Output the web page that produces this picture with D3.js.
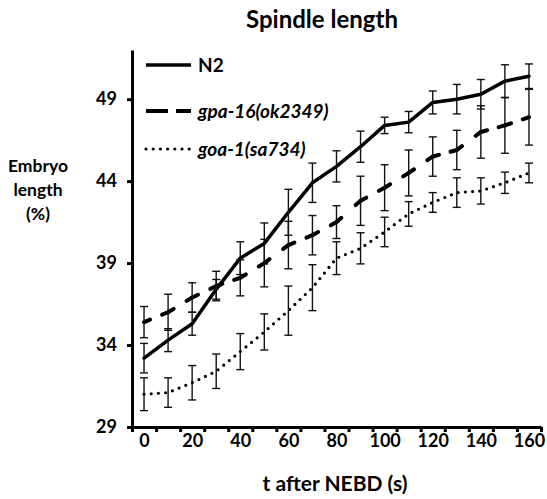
<!DOCTYPE html>
<html>
<head>
<meta charset="utf-8">
<script src="https://cdn.jsdelivr.net/npm/d3@7"></script>
<style>
  body { margin: 0; background: #fff; }
  svg text { font-family: Lato, "Open Sans", sans-serif; font-weight: bold; fill: #000; }
</style>
</head>
<body>
<div id="chart"></div>
<script>
// time points (s after NEBD)
const times = [0, 10, 20, 30, 40, 50, 60, 70, 80, 90, 100, 110, 120, 130, 140, 150, 160];
const xLabels = [0, 20, 40, 60, 80, 100, 120, 140, 160];
const yTicks = [29, 34, 39, 44, 49];

// spindle length, % of embryo length
const n2Mean = [33.2, 34.3, 35.3, 37.4, 39.3, 40.2, 42.1, 43.9, 44.9, 46.1, 47.4, 47.6, 48.8, 49.0, 49.3, 50.1, 50.4];
const n2Err = [0.9, 0.7, 0.7, 0.6, 1.0, 1.25, 1.4, 1.2, 0.95, 0.95, 0.5, 0.65, 0.7, 0.9, 0.9, 1.0, 0.75];
const gpaMean = [35.4, 36.0, 36.9, 37.6, 38.1, 39.0, 40.1, 40.7, 41.5, 42.8, 43.6, 44.5, 45.5, 45.9, 47.0, 47.4, 47.9];
const gpaErr = [0.95, 1.1, 0.9, 0.9, 1.1, 1.45, 1.45, 1.2, 1.0, 1.5, 1.4, 1.4, 1.2, 1.2, 1.6, 1.7, 1.7];
const goaMean = [31.0, 31.1, 31.7, 32.4, 33.6, 34.8, 36.1, 37.5, 39.3, 39.9, 40.9, 42.0, 42.7, 43.3, 43.4, 43.9, 44.5];
const goaErr = [1.0, 0.9, 1.05, 1.05, 1.1, 1.1, 1.5, 1.4, 1.0, 0.95, 0.9, 0.75, 0.6, 0.9, 0.8, 0.65, 0.6];

const seriesNames = ["N2", "gpa-16(ok2349)", "goa-1(sa734)"];

const width = 547, height = 499;
const margin = { left: 132, right: 6, top: 50, bottom: 72 };

const series = [
  { name: seriesNames[0], mean: n2Mean, err: n2Err, style: "solid", italic: false },
  { name: seriesNames[1], mean: gpaMean, err: gpaErr, style: "dash", italic: true },
  { name: seriesNames[2], mean: goaMean, err: goaErr, style: "dot", italic: true }
];

const svg = d3.select("#chart")
  .append("svg")
  .attr("width", width)
  .attr("height", height);

// category axis: points sit in the middle of each 10 s slot
const x = d3.scaleLinear()
  .domain([times[0] - 5, times[times.length - 1] + 5])
  .range([margin.left, width - margin.right]);
const y = d3.scaleLinear()
  .domain([29, 52])
  .range([height - margin.bottom, margin.top]);

const baseY = y(29);

// y axis
const yAxis = svg.append("g")
  .attr("transform", `translate(${margin.left},0)`)
  .call(d3.axisLeft(y).tickValues(yTicks).tickSize(5).tickSizeOuter(0).tickPadding(10));
yAxis.select(".domain").attr("stroke-width", 3);
yAxis.selectAll(".tick line").attr("stroke-width", 3);
yAxis.selectAll("text").style("font-size", "18px");

// x axis: tick marks on slot edges
const edges = times.map(t => t - 5).concat([times[times.length - 1] + 5]);
const xAxis = svg.append("g")
  .attr("transform", `translate(0,${baseY})`)
  .call(d3.axisBottom(x).tickValues(edges).tickSize(5).tickSizeOuter(0).tickFormat(""));
xAxis.select(".domain").attr("stroke-width", 3);
xAxis.selectAll(".tick line").attr("stroke-width", 3);

const xLab = svg.append("g")
  .attr("transform", `translate(0,${baseY})`)
  .call(d3.axisBottom(x).tickValues(xLabels).tickSize(0).tickPadding(7));
xLab.select(".domain").remove();
xLab.selectAll("text").style("font-size", "18px");

// lines
const line = d3.line()
  .x((d, i) => x(times[i]))
  .y(d => y(d));

series.forEach(s => {
  const g = svg.append("g");

  if (s.style === "dash") {
    // dash centred on every data point, like the original
    const segs = d3.pairs(s.mean.map((v, i) => [x(times[i]), y(v)]));
    g.selectAll(".seg")
      .data(segs)
      .join("line")
      .attr("x1", d => d[0][0]).attr("y1", d => d[0][1])
      .attr("x2", d => d[1][0]).attr("y2", d => d[1][1])
      .attr("stroke", "#000")
      .attr("stroke-width", 4)
      .attr("stroke-linecap", "round")
      .attr("stroke-dasharray", d => {
        const L = Math.hypot(d[1][0] - d[0][0], d[1][1] - d[0][1]);
        const a = 6.5;
        return `${a},${L - 2 * a},${a},0`;
      });
  } else {
    g.append("path")
      .datum(s.mean)
      .attr("d", line)
      .attr("fill", "none")
      .attr("stroke", "#000")
      .attr("stroke-width", s.style === "dot" ? 3.2 : 3.5)
      .attr("stroke-linecap", "round")
      .attr("stroke-linejoin", "round")
      .attr("stroke-dasharray", s.style === "dot" ? "0,7.2" : null);
  }

  // error bars
  const eb = g.selectAll(".err")
    .data(s.mean.map((v, i) => ({ t: times[i], v: v, e: s.err[i] })))
    .join("g");
  eb.append("line")
    .attr("x1", d => x(d.t)).attr("x2", d => x(d.t))
    .attr("y1", d => y(d.v + d.e)).attr("y2", d => y(d.v - d.e))
    .attr("stroke", "#111").attr("stroke-width", 1.4);
  eb.append("line")
    .attr("x1", d => x(d.t) - 4).attr("x2", d => x(d.t) + 4)
    .attr("y1", d => y(d.v + d.e)).attr("y2", d => y(d.v + d.e))
    .attr("stroke", "#111").attr("stroke-width", 1.4);
  eb.append("line")
    .attr("x1", d => x(d.t) - 4).attr("x2", d => x(d.t) + 4)
    .attr("y1", d => y(d.v - d.e)).attr("y2", d => y(d.v - d.e))
    .attr("stroke", "#111").attr("stroke-width", 1.4);
});

// legend
const legendY = [65, 111, 149];
const legend = svg.append("g");
series.forEach((s, i) => {
  legend.append("line")
    .attr("x1", 146).attr("x2", 191)
    .attr("y1", legendY[i]).attr("y2", legendY[i])
    .attr("stroke", "#000")
    .attr("stroke-width", s.style === "dot" ? 3.2 : (s.style === "dash" ? 4 : 3.5))
    .attr("stroke-linecap", s.style === "dot" ? "round" : "butt")
    .attr("stroke-dasharray", s.style === "dot" ? "0,7.2" : (s.style === "dash" ? "22,8" : null));
  legend.append("text")
    .attr("x", 198)
    .attr("y", legendY[i] + 6.5)
    .style("font-size", "19px")
    .style("font-style", s.italic ? "italic" : "normal")
    .text(s.name);
});

// titles
svg.append("text")
  .attr("x", 322)
  .attr("y", 28)
  .attr("text-anchor", "middle")
  .style("font-size", "24px")
  .text("Spindle length");

svg.append("text")
  .attr("x", 335)
  .attr("y", 491)
  .attr("text-anchor", "middle")
  .style("font-size", "21px")
  .text("t after NEBD (s)");

const yTitle = svg.append("text")
  .attr("x", 38)
  .attr("text-anchor", "middle")
  .style("font-size", "17.5px");
["Embryo", "length", "(%)"].forEach((t, i) => {
  yTitle.append("tspan")
    .attr("x", 38)
    .attr("y", 172 + i * 24)
    .text(t);
});
</script>
</body>
</html>
